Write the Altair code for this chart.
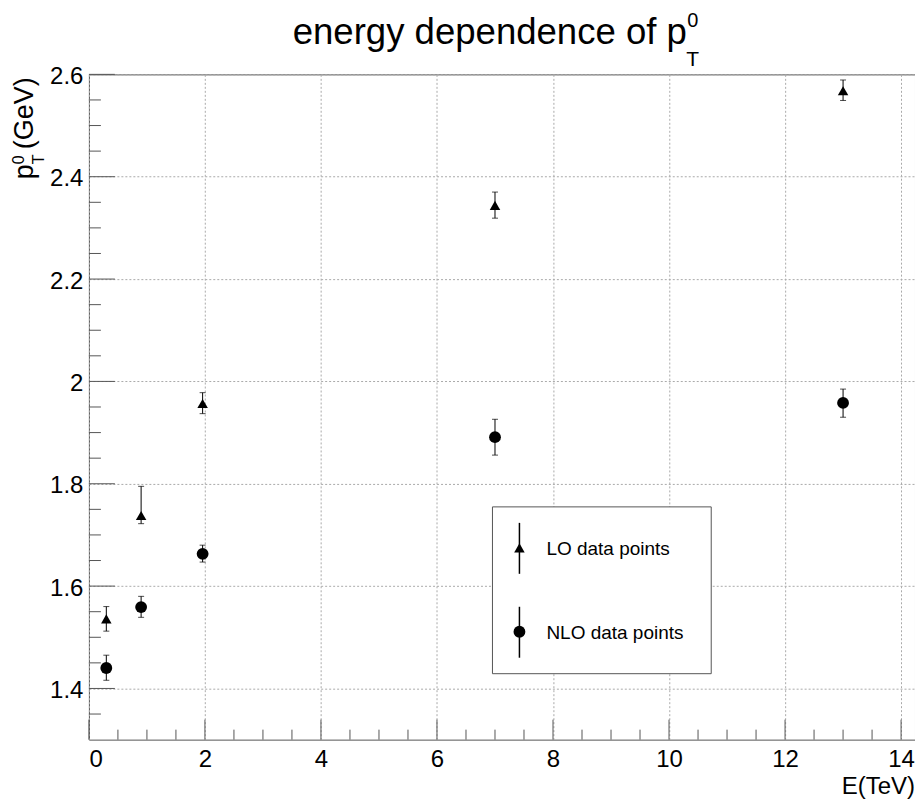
import altair as alt
import pandas as pd

# ---- data ----
energy = [0.3, 0.9, 1.96, 7.0, 13.0]
lo_pt = [1.536, 1.738, 1.957, 2.344, 2.568]
lo_err_up = [0.024, 0.057, 0.021, 0.026, 0.021]
lo_err_down = [0.024, 0.016, 0.020, 0.025, 0.019]
nlo_pt = [1.440, 1.559, 1.663, 1.891, 1.958]
nlo_err_up = [0.025, 0.021, 0.017, 0.035, 0.027]
nlo_err_down = [0.024, 0.020, 0.016, 0.035, 0.028]

x_major = [0, 2, 4, 6, 8, 10, 12, 14]
x_minor = [v / 2 for v in range(0, 29) if v % 4 != 0]
y_major = [1.4, 1.6, 1.8, 2.0, 2.2, 2.4, 2.6]
y_minor = [1.35, 1.45, 1.5, 1.55, 1.65, 1.7, 1.75, 1.85, 1.9, 1.95, 2.05, 2.1,
           2.15, 2.25, 2.3, 2.35, 2.45, 2.5, 2.55]

title_main = ["energy dependence of p"]
title_sup = ["0"]
title_sub = ["T"]
xtitle = ["E(TeV)"]
ytitle_main = ["p"]
ytitle_rest = ["(GeV)"]
legend_labels = ["LO data points", "NLO data points"]

FONT = "Liberation Sans"
W, H = 827, 666
INK = "#555555"

xs = alt.Scale(domain=[0, 14.24], nice=False, zero=False)
ys = alt.Scale(domain=[1.3, 2.6], nice=False, zero=False)
xaxis = alt.Axis(values=x_major, grid=True, labels=True, ticks=False, domain=False,
                 labelPadding=8, format="d", title=None,
                 labelFont=FONT, labelFontSize=24, labelColor="black",
                 gridColor="#aaaaaa", gridDash=[2, 2], gridWidth=1)
yaxis = alt.Axis(values=y_major, grid=True, labels=True, ticks=False, domain=False,
                 labelPadding=6, format=".1~f", title=None, labelOffset=2,
                 labelFont=FONT, labelFontSize=24, labelColor="black",
                 gridColor="#aaaaaa", gridDash=[2, 2], gridWidth=1)


def X(field):
    return alt.X(field, type="quantitative", scale=xs, axis=xaxis)


def Y(field):
    return alt.Y(field, type="quantitative", scale=ys, axis=yaxis)


def series(vals, up, down):
    return pd.DataFrame({
        "E": energy,
        "pt": vals,
        "hi": [v + u for v, u in zip(vals, up)],
        "lo": [v - d for v, d in zip(vals, down)],
    })


df_lo = series(lo_pt, lo_err_up, lo_err_down)
df_nlo = series(nlo_pt, nlo_err_up, nlo_err_down)

layers = []

# inward ticks
layers.append(alt.Chart(pd.DataFrame({"v": x_major})).mark_rule(color=INK, strokeWidth=1).encode(
    x=X("v"), y=alt.value(H), y2=alt.value(H - 20)))
layers.append(alt.Chart(pd.DataFrame({"v": x_minor})).mark_rule(color=INK, strokeWidth=1).encode(
    x=X("v"), y=alt.value(H), y2=alt.value(H - 10)))
layers.append(alt.Chart(pd.DataFrame({"v": y_major})).mark_rule(color=INK, strokeWidth=1).encode(
    y=Y("v"), x=alt.value(0), x2=alt.value(26)))
layers.append(alt.Chart(pd.DataFrame({"v": y_minor})).mark_rule(color=INK, strokeWidth=1).encode(
    y=Y("v"), x=alt.value(0), x2=alt.value(12)))

# error bars and points
for df, shape, size in [(df_lo, "triangle-up", 110), (df_nlo, "circle", 140)]:
    base = alt.Chart(df)
    layers.append(base.mark_rule(color="black", strokeWidth=1).encode(
        x=X("E"), y=Y("lo"), y2="hi"))
    layers.append(base.mark_tick(color="black", orient="horizontal", size=6, thickness=1).encode(
        x=X("E"), y=Y("lo")))
    layers.append(base.mark_tick(color="black", orient="horizontal", size=6, thickness=1).encode(
        x=X("E"), y=Y("hi")))
    layers.append(base.mark_point(shape=shape, filled=True, color="black", opacity=1, size=size).encode(
        x=X("E"), y=Y("pt")))

# legend box
layers.append(alt.Chart(pd.DataFrame({"label": legend_labels[:1]})).mark_rect(
    fill="white", stroke=INK, strokeWidth=1).encode(
    x=alt.value(404), x2=alt.value(623), y=alt.value(433), y2=alt.value(600)))
leg_y = [474, 558]
leg_shape = ["triangle-up", "circle"]
leg_size = [110, 140]
for i, lab in enumerate(legend_labels):
    d = pd.DataFrame({"label": [lab]})
    layers.append(alt.Chart(d).mark_rule(color="black", strokeWidth=1.5).encode(
        x=alt.value(431), y=alt.value(leg_y[i] - 25), y2=alt.value(leg_y[i] + 26)))
    layers.append(alt.Chart(d).mark_point(shape=leg_shape[i], filled=True, color="black",
                                          opacity=1, size=leg_size[i]).encode(
        x=alt.value(431), y=alt.value(leg_y[i])))
    layers.append(alt.Chart(d).mark_text(align="left", baseline="middle", font=FONT,
                                         fontSize=19, color="black").encode(
        text="label:N", x=alt.value(458), y=alt.value(leg_y[i] + 1)))


def txt(values, x, y, size, angle=0, align="left", baseline="alphabetic"):
    return alt.Chart(pd.DataFrame({"t": values})).mark_text(
        align=align, baseline=baseline, font=FONT, fontSize=size, color="black", angle=angle
    ).encode(text="t:N", x=alt.value(x), y=alt.value(y))


# title
layers.append(txt(title_main, 204, -30, 36.6))
layers.append(txt(title_sup, 599, -47, 20))
layers.append(txt(title_sub, 598, -8, 21))
# x title
layers.append(txt(xtitle, W, H + 54, 24, align="right"))
# y title (rotated)
layers.append(txt(ytitle_main, -56, 105, 27, angle=270))
layers.append(txt(title_sup, -65, 90, 16, angle=270))
layers.append(txt(title_sub, -45, 90, 16, angle=270))
layers.append(txt(ytitle_rest, -56, 75, 27, angle=270))

chart = alt.layer(*layers).properties(
    width=W, height=H,
    autosize="none",
    padding={"left": 81, "top": 66, "right": 0, "bottom": 60},
    background="white",
).configure_view(
    stroke=INK, strokeWidth=1
)

chart.save("out.html", embed_options={"renderer": "svg", "actions": False})
